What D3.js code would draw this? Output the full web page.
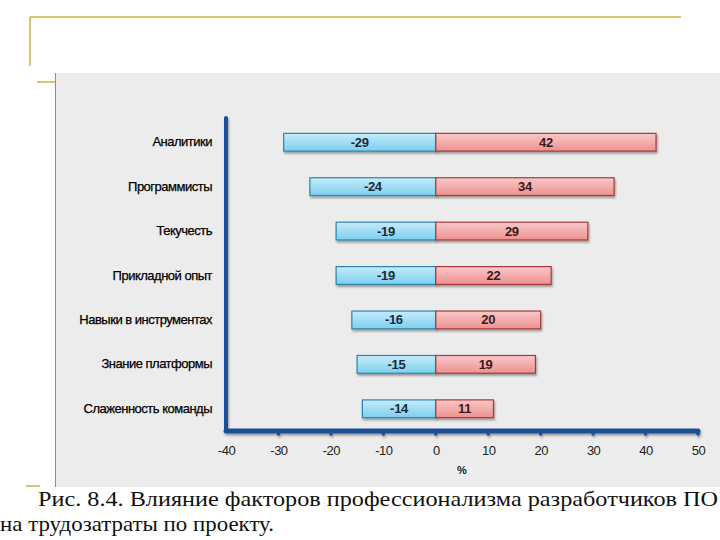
<!doctype html>
<html>
<head>
<meta charset="utf-8">
<script src="https://cdn.jsdelivr.net/npm/d3@7"></script>
<style>
  body { margin: 0; background: #fff; }
  svg { display: block; }
</style>
</head>
<body>
<svg width="720" height="540"></svg>
<script>
  // данные
  var categories = ["Аналитики", "Программисты", "Текучесть", "Прикладной опыт",
                    "Навыки в инструментах", "Знание платформы", "Слаженность команды"];
  var negValues = [-29, -24, -19, -19, -16, -15, -14];
  var posValues = [42, 34, 29, 22, 20, 19, 11];
  var xTicks = [-40, -30, -20, -10, 0, 10, 20, 30, 40, 50];

  var sans = "Arial, 'Liberation Sans', sans-serif";
  var serif = "'Liberation Serif', 'Times New Roman', 'DejaVu Serif', serif";

  var svg = d3.select("svg");
  var defs = svg.append("defs");

  // градиенты баров
  var gBlue = defs.append("linearGradient").attr("id", "gBlue").attr("x1", 0).attr("y1", 0).attr("x2", 0).attr("y2", 1);
  gBlue.append("stop").attr("offset", "0%").attr("stop-color", "#c6ecfa");
  gBlue.append("stop").attr("offset", "100%").attr("stop-color", "#7ccfee");
  var gRed = defs.append("linearGradient").attr("id", "gRed").attr("x1", 0).attr("y1", 0).attr("x2", 0).attr("y2", 1);
  gRed.append("stop").attr("offset", "0%").attr("stop-color", "#f8c8c8");
  gRed.append("stop").attr("offset", "100%").attr("stop-color", "#ee9090");
  var shadow = defs.append("filter").attr("id", "shadow").attr("x", "-5%").attr("y", "-30%").attr("width", "115%").attr("height", "180%");
  shadow.append("feDropShadow").attr("dx", 1).attr("dy", 2).attr("stdDeviation", 1.2).attr("flood-color", "#000").attr("flood-opacity", 0.35);

  // рамка слайда
  var gold = "#c8b040";
  svg.append("line").attr("x1", 30).attr("x2", 681).attr("y1", 17).attr("y2", 17).attr("stroke", gold).attr("stroke-width", 1.5);
  svg.append("line").attr("x1", 30).attr("x2", 30).attr("y1", 17).attr("y2", 66).attr("stroke", gold).attr("stroke-width", 1.5);
  svg.append("line").attr("x1", 37).attr("x2", 56).attr("y1", 82).attr("y2", 82).attr("stroke", gold).attr("stroke-width", 1.5);
  svg.append("line").attr("x1", 26).attr("x2", 40).attr("y1", 486).attr("y2", 486).attr("stroke", gold).attr("stroke-width", 1.5);

  // серая подложка
  svg.append("rect").attr("x", 55).attr("y", 73).attr("width", 665).attr("height", 414).attr("fill", "#ececec");
  svg.append("line").attr("x1", 55.5).attr("x2", 55.5).attr("y1", 73).attr("y2", 487).attr("stroke", "#8a8a8a");

  // шкалы
  var x = d3.scaleLinear().domain([-40, 50]).range([226, 698]);
  var y = d3.scaleBand().domain(categories).range([120, 431]).paddingInner(0.6).paddingOuter(0.3);

  var axisColor = "#1f5096";
  // ось X (подписи без тени)
  var xAxis = svg.append("g").attr("transform", "translate(0,431)")
    .call(d3.axisBottom(x).tickValues(xTicks).tickSize(0).tickPadding(15).tickFormat(function (d) { return String(d); }));
  xAxis.select(".domain").remove();
  xAxis.selectAll("text").attr("font-family", sans).attr("font-size", 13)
    .attr("letter-spacing", -0.5).attr("fill", "#222");

  // линии осей с тенью
  var axes = svg.append("g").attr("filter", "url(#shadow)");
  axes.append("line").attr("x1", x(-40)).attr("x2", x(-40)).attr("y1", 118).attr("y2", 431)
    .attr("stroke", axisColor).attr("stroke-width", 4).attr("stroke-linecap", "round");
  axes.append("line").attr("x1", x(-40)).attr("x2", x(50)).attr("y1", 431).attr("y2", 431)
    .attr("stroke", axisColor).attr("stroke-width", 5).attr("stroke-linecap", "round");
  // точки-деления
  axes.append("g").selectAll("circle").data(xTicks.slice(1)).enter().append("circle")
    .attr("cx", function (d) { return x(d); }).attr("cy", 434).attr("r", 1.8).attr("fill", axisColor);
  var step = y.step();
  axes.append("g").selectAll("circle").data(categories.slice(1)).enter().append("circle")
    .attr("cx", x(-40)).attr("cy", function (d) { return y(d) - step * 0.3 + 0.5; }).attr("r", 1.8).attr("fill", axisColor);

  svg.append("text").attr("x", x(5)).attr("y", 474).attr("text-anchor", "middle")
    .attr("font-family", sans).attr("font-size", 11).attr("font-weight", "bold")
    .attr("fill", "#222").text("%");

  // подписи категорий
  svg.append("g").selectAll("text").data(categories).enter().append("text")
    .attr("x", 212).attr("y", function (d) { return y(d) + y.bandwidth() / 2 + 4; })
    .attr("text-anchor", "end").attr("font-family", sans)
    .attr("font-size", 13).attr("letter-spacing", -0.5).attr("fill", "#000")
    .attr("stroke", "#000").attr("stroke-width", 0.25).text(function (d) { return d; });

  // бары
  var rows = categories.map(function (c, i) { return { cat: c, neg: negValues[i], pos: posValues[i] }; });
  var bars = svg.append("g").selectAll("g").data(rows).enter().append("g");
  bars.append("rect")
    .attr("x", function (d) { return x(d.neg); }).attr("y", function (d) { return y(d.cat); })
    .attr("width", function (d) { return x(0) - x(d.neg); }).attr("height", y.bandwidth())
    .attr("fill", "url(#gBlue)").attr("stroke", "#2d86a8").attr("stroke-width", 1.2).attr("filter", "url(#shadow)");
  bars.append("rect")
    .attr("x", x(0)).attr("y", function (d) { return y(d.cat); })
    .attr("width", function (d) { return x(d.pos) - x(0); }).attr("height", y.bandwidth())
    .attr("fill", "url(#gRed)").attr("stroke", "#a83838").attr("stroke-width", 1.2).attr("filter", "url(#shadow)");
  bars.append("text")
    .attr("x", function (d) { return (x(d.neg) + x(0)) / 2; }).attr("y", function (d) { return y(d.cat) + y.bandwidth() / 2 + 4.5; })
    .attr("text-anchor", "middle").attr("font-family", sans).attr("font-size", 13)
    .attr("font-weight", "bold").attr("letter-spacing", -0.3).attr("fill", "#1a2a3a").text(function (d) { return d.neg; });
  bars.append("text")
    .attr("x", function (d) { return (x(d.pos) + x(0)) / 2; }).attr("y", function (d) { return y(d.cat) + y.bandwidth() / 2 + 4.5; })
    .attr("text-anchor", "middle").attr("font-family", sans).attr("font-size", 13)
    .attr("font-weight", "bold").attr("letter-spacing", -0.3).attr("fill", "#3a1a1a").text(function (d) { return d.pos; });

  // подпись рисунка
  svg.append("text").attr("x", 38).attr("y", 506).attr("font-family", serif)
    .attr("font-size", 22).attr("textLength", 680).attr("lengthAdjust", "spacingAndGlyphs").attr("fill", "#111")
    .text("Рис. 8.4. Влияние факторов профессионализма разработчиков ПО");
  svg.append("text").attr("x", 0).attr("y", 531).attr("font-family", serif)
    .attr("font-size", 22).attr("textLength", 274).attr("lengthAdjust", "spacingAndGlyphs").attr("fill", "#111")
    .text("на трудозатраты по проекту.");
</script>
</body>
</html>
